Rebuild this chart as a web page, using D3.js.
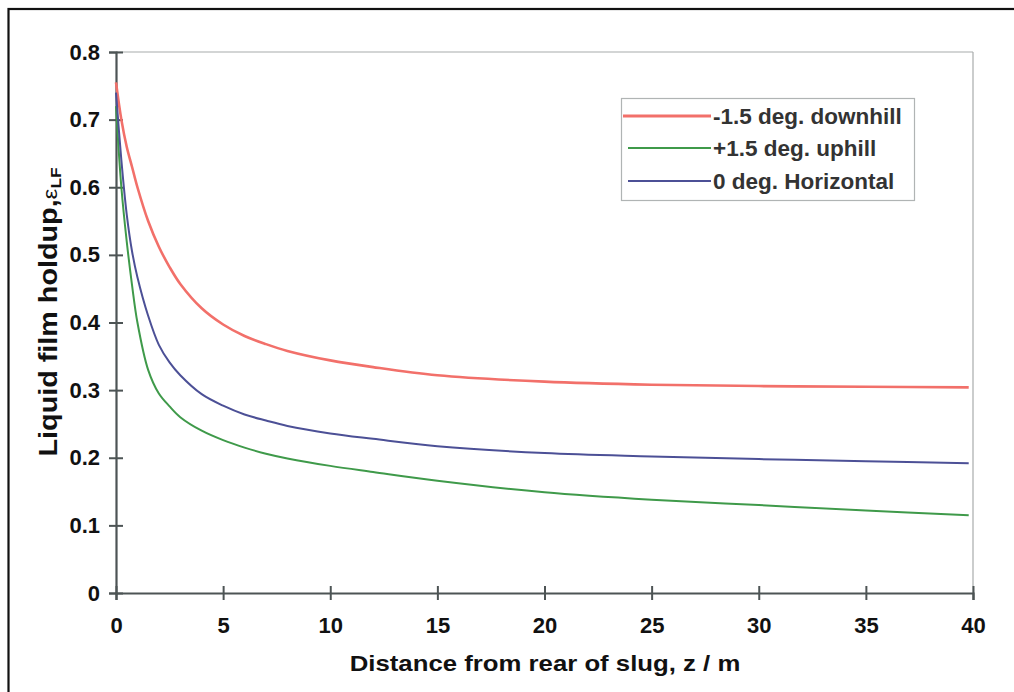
<!DOCTYPE html>
<html>
<head>
<meta charset="utf-8">
<script src="https://cdn.jsdelivr.net/npm/d3@7"></script>
<style>
  html, body { margin: 0; padding: 0; background: #fff; }
  svg { display: block; }
  text { font-family: "Liberation Sans", Arial, Helvetica, sans-serif; font-weight: bold; }
</style>
</head>
<body>
<svg id="chart" width="1014" height="692"></svg>
<script>
// Distance from rear of slug (m)
const distance = [0, 0.25, 0.5, 0.75, 1, 1.5, 2, 2.5, 3, 4, 5, 6, 7, 8, 10, 12, 15, 20, 25, 30, 35, 39.8];

// Liquid film holdup for each inclination
const downhill = [0.755, 0.70, 0.66, 0.63, 0.60, 0.55, 0.512, 0.482, 0.457, 0.421, 0.397, 0.38, 0.368, 0.358, 0.344, 0.334, 0.322, 0.3125, 0.308, 0.306, 0.305, 0.304];
const uphill = [0.72, 0.60, 0.52, 0.455, 0.40, 0.33, 0.295, 0.276, 0.260, 0.240, 0.226, 0.215, 0.206, 0.199, 0.188, 0.179, 0.166, 0.149, 0.138, 0.13, 0.122, 0.115];
const horizontal = [0.74, 0.64, 0.56, 0.505, 0.467, 0.41, 0.367, 0.341, 0.322, 0.294, 0.277, 0.264, 0.255, 0.247, 0.236, 0.228, 0.217, 0.207, 0.202, 0.198, 0.195, 0.192];

const seriesNames = ["-1.5 deg. downhill", "+1.5 deg. uphill", "0 deg. Horizontal"];
const xTicks = [0, 5, 10, 15, 20, 25, 30, 35, 40];
const yTicks = [0, 0.1, 0.2, 0.3, 0.4, 0.5, 0.6, 0.7, 0.8];

const svg = d3.select("#chart");

// outer frame
svg.append("rect")
  .attr("x", 8.5).attr("y", 9).attr("width", 1030).attr("height", 700)
  .attr("fill", "none").attr("stroke", "#111").attr("stroke-width", 2.2);

const x = d3.scaleLinear().domain([0, 40]).range([116, 973]);
const y = d3.scaleLinear().domain([0, 0.8]).range([593, 52]);

// plot area outline: top and right edges
svg.append("line").attr("x1", x(0)).attr("x2", x(40)).attr("y1", y(0.8)).attr("y2", y(0.8))
  .attr("stroke", "#a8acac").attr("stroke-width", 1.2);
svg.append("line").attr("x1", x(40)).attr("x2", x(40)).attr("y1", y(0.8)).attr("y2", y(0))
  .attr("stroke", "#a8acac").attr("stroke-width", 1.2);

const axisColor = "#4d5455";
const tickFont = 22;

// y axis
const yAxis = svg.append("g").attr("transform", `translate(${x(0)},0)`)
  .call(d3.axisLeft(y).tickValues(yTicks).tickFormat(d => d === 0 ? "0" : d3.format(".1f")(d)).tickSize(7).tickPadding(9));
yAxis.select(".domain").attr("stroke", axisColor).attr("stroke-width", 2.2);
yAxis.selectAll(".tick line").attr("stroke", axisColor).attr("stroke-width", 2).attr("x1", 7);
yAxis.selectAll(".tick text").attr("font-size", tickFont).attr("fill", "#111")
  .attr("font-family", "'Liberation Sans', Arial, sans-serif").attr("font-weight", "bold");

// x axis
const xAxis = svg.append("g").attr("transform", `translate(0,${y(0)})`)
  .call(d3.axisBottom(x).tickValues(xTicks).tickFormat(d3.format("d")).tickSize(7).tickPadding(17));
xAxis.select(".domain").attr("stroke", axisColor).attr("stroke-width", 2.2);
xAxis.selectAll(".tick line").attr("stroke", axisColor).attr("stroke-width", 2).attr("y1", -7);
xAxis.selectAll(".tick text").attr("font-size", tickFont).attr("fill", "#111")
  .attr("font-family", "'Liberation Sans', Arial, sans-serif").attr("font-weight", "bold");

// axis titles
svg.append("text")
  .attr("transform", "translate(545,671) scale(1.12,1)")
  .attr("text-anchor", "middle").attr("font-size", 23).attr("fill", "#111")
  .text("Distance from rear of slug, z / m");

const yTitle = svg.append("text")
  .attr("transform", "translate(57,312) rotate(-90) scale(1.15,1)")
  .attr("text-anchor", "middle").attr("font-size", 25).attr("fill", "#111");
yTitle.append("tspan").text("Liquid film holdup,");
yTitle.append("tspan").attr("font-size", 21).attr("font-weight", "normal").text("\u03B5");
yTitle.append("tspan").attr("font-size", 15).attr("dy", 4).text("LF");

// curves
const colors = ["#f2706a", "#3f9a4a", "#4c5096"];
const widths = [2.6, 2, 2];
const values = [downhill, uphill, horizontal];

const line = d3.line().x(d => x(d[0])).y(d => y(d[1])).curve(d3.curveCatmullRom.alpha(0.5));

values.forEach((vals, i) => {
  svg.append("path")
    .datum(distance.map((dv, j) => [dv, vals[j]]))
    .attr("fill", "none")
    .attr("stroke", colors[i])
    .attr("stroke-width", widths[i])
    .attr("stroke-linejoin", "round")
    .attr("d", line);
});

// legend
const legend = svg.append("g");
legend.append("rect")
  .attr("x", 621.5).attr("y", 98.5).attr("width", 293).attr("height", 102)
  .attr("fill", "#fff").attr("stroke", "#b0b4b4").attr("stroke-width", 1.2);

const rowY = [116, 148, 181];
seriesNames.forEach((name, i) => {
  legend.append("line")
    .attr("x1", i === 0 ? 623 : 628).attr("x2", 711)
    .attr("y1", rowY[i]).attr("y2", rowY[i])
    .attr("stroke", colors[i]).attr("stroke-width", i === 0 ? 3.2 : 2);
  legend.append("text")
    .attr("x", 713).attr("y", rowY[i]).attr("dy", "0.36em")
    .attr("font-size", 22.5).attr("fill", "#333")
    .text(name);
});
</script>
</body>
</html>
